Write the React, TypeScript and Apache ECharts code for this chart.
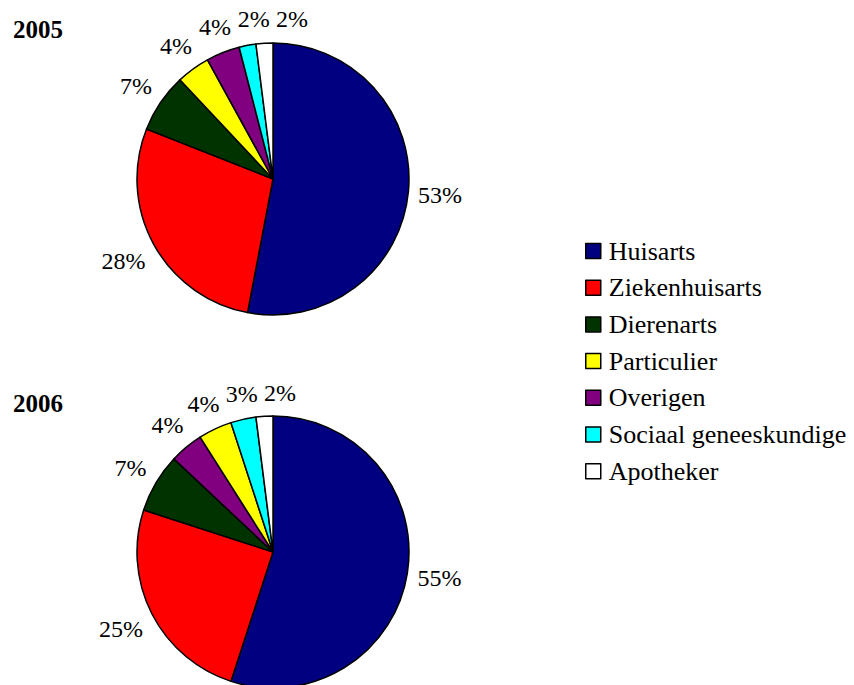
import React, { useEffect, useRef } from 'react';
import * as echarts from 'echarts';

// Categories in legend order and their fill colours
const categories = [
  'Huisarts',
  'Ziekenhuisarts',
  'Dierenarts',
  'Particulier',
  'Overigen',
  'Sociaal geneeskundige',
  'Apotheker',
];
const categoryColors = ['#000080', '#FF0000', '#003300', '#FFFF00', '#800080', '#00FFFF', '#FFFFFF'];

// Slice order and shares (%) per year, clockwise from 12 o'clock
const years = ['2005', '2006'];
const slices2005 = ['Huisarts', 'Ziekenhuisarts', 'Dierenarts', 'Particulier', 'Overigen', 'Sociaal geneeskundige', 'Apotheker'];
const shares2005 = [53, 28, 7, 4, 4, 2, 2];
const slices2006 = ['Huisarts', 'Ziekenhuisarts', 'Dierenarts', 'Overigen', 'Particulier', 'Sociaal geneeskundige', 'Apotheker'];
const shares2006 = [55, 25, 7, 4, 4, 3, 2];

const FONT = 'Liberation Serif';
const LABEL_SIZE = 24;
const LEGEND_SIZE = 26;
const PIE_R = 136;
const PIE_CX = 273;
const PIE_CY = [179, 552];

let measureCtx: CanvasRenderingContext2D | null = null;
function textWidth(text: string, size: number): number {
  if (!measureCtx) measureCtx = document.createElement('canvas').getContext('2d');
  if (!measureCtx) return text.length * size * 0.5;
  measureCtx.font = `${size}px '${FONT}'`;
  return measureCtx.measureText(text).width;
}

type LabelBox = { x: number; y: number; a: number; b: number; tx: number; ty: number };

// Put each percentage just outside its slice: the label box is pushed out along
// the slice's mid-angle until its nearest point clears the rim, then labels that
// collide are slid clockwise along the rim.
function placeLabels(values: number[], cx: number, cy: number, r: number): LabelBox[] {
  const total = values.reduce((s, v) => s + v, 0);
  const gap = 9;
  let acc = 0;
  const boxes: LabelBox[] = values.map((v) => {
    const mid = ((acc + v / 2) / total) * Math.PI * 2;
    acc += v;
    const ux = Math.sin(mid);
    const uy = -Math.cos(mid);
    const a = textWidth(`${v}%`, LABEL_SIZE) / 2;
    const b = LABEL_SIZE * 0.55;
    let lo = r;
    let hi = r + 150;
    for (let k = 0; k < 40; k++) {
      const d = (lo + hi) / 2;
      const bx = ux * d;
      const by = uy * d;
      const nx = Math.min(Math.max(0, bx - a), bx + a);
      const ny = Math.min(Math.max(0, by - b), by + b);
      if (Math.hypot(nx, ny) < r + gap) lo = d;
      else hi = d;
    }
    return { x: cx + ux * hi, y: cy + uy * hi, a, b, tx: Math.cos(mid), ty: Math.sin(mid) };
  });
  const pad = 6;
  const overlaps = (p: LabelBox, q: LabelBox) =>
    Math.abs(p.x - q.x) < p.a + q.a + pad && Math.abs(p.y - q.y) < p.b + q.b - 6;
  for (let i = 1; i < boxes.length; i++) {
    for (let step = 0; step < 200; step++) {
      let hit = false;
      for (let j = 0; j < i; j++) if (overlaps(boxes[i], boxes[j])) hit = true;
      if (!hit) break;
      boxes[i].x += boxes[i].tx;
      boxes[i].y += boxes[i].ty;
    }
  }
  return boxes;
}

function pieSeries(slices: string[], shares: number[], cy: number) {
  const boxes = placeLabels(shares, PIE_CX, cy, PIE_R);
  return {
    type: 'pie',
    center: [PIE_CX, cy],
    radius: PIE_R,
    startAngle: 90,
    clockwise: true,
    avoidLabelOverlap: false,
    silent: true,
    itemStyle: { borderColor: '#000', borderWidth: 1.5 },
    label: {
      show: true,
      position: 'outside',
      formatter: '{c}%',
      fontFamily: FONT,
      fontSize: LABEL_SIZE,
      color: '#000',
    },
    labelLine: { show: false },
    labelLayout: (p: any) => ({
      x: boxes[p.dataIndex].x,
      y: boxes[p.dataIndex].y,
      align: 'center',
      verticalAlign: 'middle',
    }),
    data: slices.map((name, i) => ({
      name,
      value: shares[i],
      itemStyle: { color: categoryColors[categories.indexOf(name)] },
    })),
  };
}

export default function App() {
  const ref = useRef<HTMLDivElement>(null);

  useEffect(() => {
    if (!ref.current) return;
    const chart = echarts.init(ref.current, null, { renderer: 'svg' });
    chart.setOption({
      animation: false,
      backgroundColor: '#fff',
      textStyle: { fontFamily: FONT, color: '#000' },
      title: years.map((y, i) => ({
        text: y,
        left: 13,
        top: i === 0 ? 17 : 391,
        padding: 0,
        textStyle: { fontFamily: FONT, fontWeight: 'bold', fontSize: 25, color: '#000' },
      })),
      legend: {
        orient: 'vertical',
        left: 585,
        top: 238,
        padding: 0,
        itemWidth: 15,
        itemHeight: 15,
        itemGap: 10.7,
        icon: 'rect',
        selectedMode: false,
        data: categories,
        itemStyle: { borderColor: '#000', borderWidth: 1.5 },
        textStyle: {
          fontFamily: FONT,
          fontSize: LEGEND_SIZE,
          lineHeight: 26,
          color: '#000',
          padding: [0, 0, 0, 3],
        },
      },
      series: [pieSeries(slices2005, shares2005, PIE_CY[0]), pieSeries(slices2006, shares2006, PIE_CY[1])],
    });
    return () => chart.dispose();
  }, []);

  return <div ref={ref} style={{ position: 'fixed', left: 0, top: 0, width: 854, height: 685 }} />;
}
